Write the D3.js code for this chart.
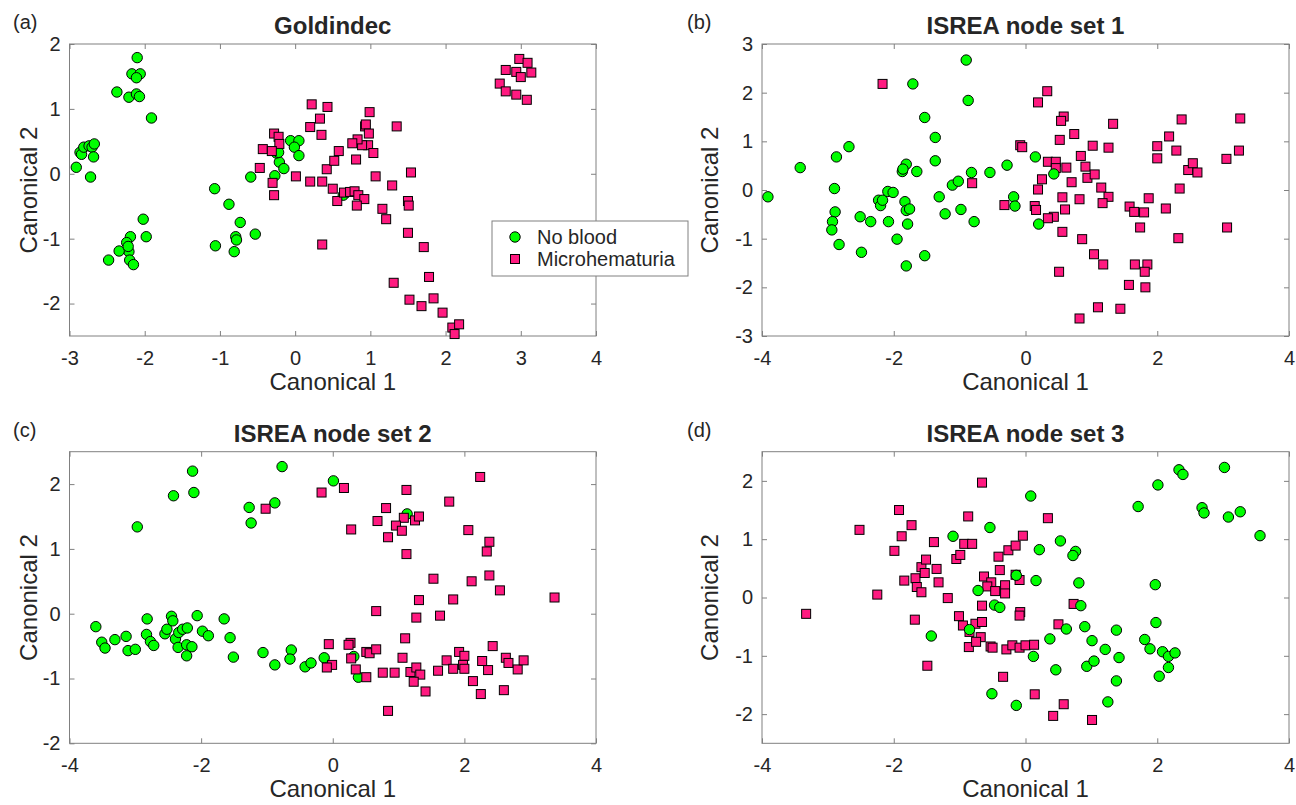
<!DOCTYPE html>
<html>
<head>
<meta charset="utf-8">
<script src="https://cdn.jsdelivr.net/npm/d3@7"></script>
<style>
  body { margin: 0; background: #fff; }
  text { font-family: Arial, "Liberation Sans", sans-serif; fill: #262626; }
</style>
</head>
<body>
<div id="chart"></div>
<script>
// ---- data ----
var groupNames = ["No blood", "Microhematuria"];
var panelTitles = ["Goldindec", "ISREA node set 1", "ISREA node set 2", "ISREA node set 3"];
var panelLetters = ["(a)", "(b)", "(c)", "(d)"];

var xTicksA = [-3, -2, -1, 0, 1, 2, 3, 4];
var yTicksA = [-2, -1, 0, 1, 2];
var xTicksB = [-4, -2, 0, 2, 4];
var yTicksB = [-3, -2, -1, 0, 1, 2, 3];
var xTicksC = [-4, -2, 0, 2, 4];
var yTicksC = [-2, -1, 0, 1, 2];
var xTicksD = [-4, -2, 0, 2, 4];
var yTicksD = [-2, -1, 0, 1, 2];

var goldNoBlood = [[-2.10,1.79],[-2.17,1.54],[-2.06,1.54],[-2.11,1.48],[-2.37,1.26],[-2.21,1.18],[-2.11,1.23],[-2.07,1.19],[-1.91,0.86],
  [-2.91,0.10],[-2.86,0.33],[-2.84,0.30],[-2.81,0.41],[-2.74,0.43],[-2.70,0.41],[-2.67,0.46],[-2.68,0.26],[-2.72,-0.05],
  [-2.02,-0.70],[-2.19,-0.97],[-2.24,-1.06],[-1.98,-0.97],[-2.21,-1.20],[-2.34,-1.19],[-2.48,-1.33],[-2.20,-1.33],[-2.15,-1.40],[-2.22,-1.12],
  [-1.07,-0.23],[-0.88,-0.47],[-0.73,-0.75],[-0.79,-0.97],[-0.78,-1.02],[-0.53,-0.93],[-1.06,-1.11],[-0.81,-1.20],
  [-0.59,-0.05],[-0.27,-0.03],[-0.21,0.18],[-0.25,0.32],[-0.15,0.08],[-0.06,0.51],[0.05,0.51],[-0.01,0.41],[0.05,0.28],[-0.22,0.33],[0.64,-0.33]];
var goldMicro = [[0.22,1.07],[0.43,1.03],[0.33,0.85],[0.20,0.72],[0.35,0.60],[-0.28,0.62],[-0.22,0.57],[-0.21,0.46],[-0.43,0.38],[-0.31,0.35],[-0.47,0.09],[-0.30,-0.14],[-0.28,-0.33],[0.01,-0.04],[0.20,-0.12],[0.36,-0.12],[0.42,0.07],[0.52,0.20],[0.58,0.35],[0.50,-0.23],[0.56,-0.42],[0.36,-1.09],
  [2.98,1.77],[3.09,1.71],[2.80,1.60],[2.94,1.57],[3.00,1.49],[3.14,1.56],[2.72,1.39],[2.80,1.27],[2.94,1.22],[3.08,1.14],
  [0.99,0.95],[0.93,0.73],[0.94,0.76],[0.98,0.62],[0.97,0.44],[0.89,0.44],[1.04,0.32],[1.35,0.73],[0.83,0.53],[0.76,0.47],[0.81,0.22],[1.07,-0.04],[1.54,0.02],[1.29,-0.18],[0.65,-0.29],[0.73,-0.28],[0.79,-0.27],[0.84,-0.33],[0.92,-0.39],[0.82,-0.49],[1.16,-0.54],[1.21,-0.70],[1.50,-0.42],[1.51,-0.49],[1.50,-0.91],[1.71,-1.13],[1.78,-1.59],[1.31,-1.68],[1.52,-1.94],[1.68,-2.04],[1.84,-1.92],[1.96,-2.14],[2.09,-2.37],[2.18,-2.32],[2.12,-2.47]];

var set1NoBlood = [[-3.91,-0.14],[-3.42,0.46],[-2.68,0.89],[-2.87,0.68],[-2.90,0.03],[-2.89,-0.45],[-2.93,-0.65],[-2.94,-0.82],[-2.83,-1.12],[-2.51,-0.55],[-2.35,-0.65],[-2.49,-1.28],[-2.23,-0.21],[-2.20,-0.32],[-2.17,-0.21],[-2.09,-0.03],[-2.01,-0.05],[-2.08,-0.65],[-1.95,-1.01],[-1.87,0.38],[-1.81,0.53],[-1.86,0.43],[-1.65,0.38],[-1.83,-0.24],[-1.81,-0.42],[-1.76,-0.39],[-1.79,-0.70],[-1.81,-1.56],[-1.53,-1.35],[-1.71,2.18],[-1.53,1.49],[-1.37,1.08],[-1.37,0.60],[-1.31,-0.14],[-1.22,-0.49],[-1.11,0.10],[-1.02,0.18],[-0.98,-0.40],[-0.90,2.67],[-0.87,1.84],[-0.82,0.36],[-0.78,-0.65],[-0.54,0.36],[-0.28,0.51],[-0.18,-0.14],[-0.16,-0.33],[0.15,0.68],[0.43,0.33],[0.20,-0.70]];
var set1Micro = [[-2.17,2.18],[-0.81,0.14],[-0.32,-0.31],
  [0.33,2.03],[0.19,1.80],[0.58,1.51],[0.54,1.42],[1.33,1.36],[0.74,1.15],[0.52,1.03],[-0.08,0.92],[-0.05,0.88],[1.02,0.91],[1.26,0.87],[0.84,0.70],[0.34,0.58],[0.46,0.58],[0.46,0.45],[0.62,0.46],[0.91,0.48],[0.25,0.22],[0.94,0.25],[1.05,0.32],[0.70,0.16],[0.19,0.01],[1.15,0.05],[1.26,-0.14],[0.56,-0.15],[0.82,-0.19],[1.17,-0.27],[0.14,-0.33],[0.16,-0.41],[0.60,-0.40],[0.43,-0.55],[0.34,-0.58],[0.56,-0.86],[0.86,-1.01],[1.04,-1.32],[1.18,-1.53],[0.51,-1.68],[0.82,-2.64],[1.10,-2.41],[1.44,-2.44],[1.57,-1.95],[1.82,-2.00],[1.66,-1.53],[1.85,-1.53],[1.81,-1.68],[1.74,-0.77],[1.58,-0.34],[1.65,-0.45],[1.80,-0.46],[1.87,-0.17],[2.13,-0.38],[2.32,-0.99],[2.34,0.03],[2.00,0.90],[2.00,0.65],[2.18,1.10],[2.29,0.81],[2.37,1.45],[2.47,0.41],[2.54,0.55],[2.61,0.36],[3.05,0.64],[3.24,0.81],[3.26,1.47],[3.06,-0.77]];

var set2NoBlood = [[-2.13,2.20],[-2.11,1.87],[-2.42,1.82],[-2.97,1.34],[-0.77,2.27],[-1.27,1.64],[-1.24,1.40],[-0.88,1.71],[0.01,2.05],[1.13,1.54],
  [-3.60,-0.20],[-3.51,-0.44],[-3.46,-0.53],[-3.31,-0.40],[-3.14,-0.35],[-3.11,-0.57],[-3.00,-0.55],[-2.82,-0.08],[-2.83,-0.32],[-2.77,-0.43],[-2.72,-0.49],[-2.55,-0.31],[-2.52,-0.24],[-2.45,-0.04],[-2.43,-0.11],[-2.39,-0.39],[-2.34,-0.29],[-2.35,-0.52],[-2.28,-0.24],[-2.21,-0.22],[-2.22,-0.48],[-2.14,-0.51],[-2.22,-0.65],[-2.06,-0.03],[-1.98,-0.27],[-1.89,-0.34],[-1.65,-0.08],[-1.56,-0.37],[-1.51,-0.67],[-1.06,-0.60],[-0.88,-0.79],[-0.63,-0.56],[-0.65,-0.70],[-0.42,-0.82],[-0.33,-0.76],[-0.13,-0.68],[0.32,-0.66],[0.39,-0.98]];
var set2Micro = [[-1.02,1.62],[-0.17,1.87],[-0.06,-0.47],[-0.01,-0.79],[-0.09,-0.83],
  [2.24,2.11],[0.17,1.94],[1.12,1.91],[1.77,1.73],[0.81,1.63],[0.68,1.43],[1.08,1.48],[1.25,1.44],[1.31,1.50],[0.96,1.36],[1.05,1.28],[0.84,1.18],[0.28,1.30],[2.06,1.29],[2.38,1.11],[2.34,0.96],[1.12,0.92],[2.38,0.59],[1.53,0.54],[2.11,0.50],[2.54,0.36],[3.37,0.25],[1.31,0.21],[1.83,0.22],[0.66,0.04],[1.27,-0.06],[1.63,-0.03],[1.10,-0.38],[2.43,-0.50],[0.27,-0.45],[0.24,-0.48],[0.51,-0.59],[0.56,-0.61],[0.66,-0.55],[0.28,-0.69],[0.35,-0.86],[0.51,-0.98],[0.76,-0.91],[0.94,-0.91],[1.06,-0.68],[1.18,-0.90],[1.27,-0.83],[1.33,-0.94],[1.23,-1.05],[1.41,-1.20],[1.60,-0.88],[0.84,-1.50],[1.73,-0.72],[1.92,-0.59],[2.00,-0.65],[1.83,-0.85],[1.98,-0.79],[2.00,-0.85],[2.13,-1.04],[2.25,-1.24],[2.27,-0.73],[2.36,-0.87],[2.63,-0.68],[2.67,-0.76],[2.60,-1.18],[2.81,-0.86],[2.90,-0.72]];

var set3NoBlood = [[-1.10,1.05],[-0.54,1.20],[-0.72,0.12],[-0.47,-0.13],[-0.39,-0.17],[-1.43,-0.66],[-0.85,-0.55],[-0.51,-1.65],[-0.14,0.38],[-0.14,-1.85],
  [0.08,1.74],[0.53,0.97],[0.21,0.82],[0.76,0.79],[0.72,0.72],[0.16,0.29],[0.81,0.25],[0.84,-0.14],[0.62,-0.54],[0.90,-0.50],[0.37,-0.71],[1.01,-0.74],[1.21,-0.89],[1.38,-0.56],[1.42,-1.03],[0.12,-1.01],[0.46,-1.24],[0.93,-1.18],[1.04,-1.09],[1.38,-1.43],[1.25,-1.79],
  [1.71,1.56],[2.01,1.93],[2.33,2.19],[2.39,2.11],[3.02,2.23],[2.68,1.54],[2.71,1.45],[3.08,1.38],[3.26,1.47],[3.56,1.06],[1.97,0.22],[1.98,-0.43],[1.81,-0.72],[1.89,-0.88],[2.08,-0.93],[2.17,-1.01],[2.27,-0.95],[2.17,-1.20],[2.03,-1.35]];
var set3Micro = [[-3.33,-0.28],[-2.52,1.16],[-2.25,0.05],[-1.92,1.50],[-1.88,1.05],[-1.73,1.24],[-1.99,0.80],[-1.84,0.29],[-1.67,0.33],[-1.65,0.18],[-1.58,0.09],[-1.58,0.52],[-1.51,0.65],[-1.53,0.42],[-1.68,-0.38],[-1.49,-1.17],[-1.39,0.95],[-1.35,0.49],[-1.32,0.26],[-1.18,-0.01],[-1.05,0.66],[-0.99,0.73],[-0.93,0.92],[-0.81,0.92],[-0.87,1.39],[-0.66,1.97],[-1.01,-0.32],[-0.95,-0.48],[-0.86,-0.85],[-0.85,-0.59],[-0.76,-0.45],[-0.66,-0.42],[-0.68,-0.68],[-0.75,-0.76],[-0.63,0.36],[-0.52,0.26],[-0.58,0.19],[-0.46,0.11],[-0.31,0.21],[-0.31,0.07],[-0.66,-0.14],[-0.53,-0.84],[-0.50,-0.86],[-0.39,0.47],[-0.41,0.70],[-0.26,0.81],[-0.15,0.89],[-0.34,-1.36],[-0.29,-0.89],[-0.20,-0.82],
  [0.34,1.36],[-0.04,1.06],[-0.15,0.39],[-0.09,0.30],[-0.08,-0.25],[-0.09,-0.31],[0.73,-0.11],[0.50,-0.46],[-0.09,-0.86],[0.00,-0.82],[0.13,-0.81],[0.14,-1.66],[0.58,-1.83],[0.42,-2.03],[1.01,-2.10]];

// ---- layout ----
var green = "#00ff00", pink = "#ff1a80";
var boxColor = "#808080";
var plainNumber = function(d) { return String(d); }; // hyphen minus, no decimals

var svg = d3.select("#chart").append("svg")
    .attr("width", 1296)
    .attr("height", 805);

var panels = [
  {left: 69.5, right: 596, top: 44, bottom: 336, xDomain: [-3, 4], yDomain: [-2.5, 2], xTicks: xTicksA, yTicks: yTicksA,
   noBlood: goldNoBlood, micro: goldMicro, greenOnTop: false, yLabelX: 29, letterX: 13},
  {left: 762, right: 1289, top: 44, bottom: 336, xDomain: [-4, 4], yDomain: [-3, 3], xTicks: xTicksB, yTicks: yTicksB,
   noBlood: set1NoBlood, micro: set1Micro, greenOnTop: true, yLabelX: 710, letterX: 687},
  {left: 69.5, right: 596, top: 451.7, bottom: 743.3, xDomain: [-4, 4], yDomain: [-2, 2.5], xTicks: xTicksC, yTicks: yTicksC,
   noBlood: set2NoBlood, micro: set2Micro, greenOnTop: false, yLabelX: 29, letterX: 13},
  {left: 762, right: 1289, top: 451.7, bottom: 743.3, xDomain: [-4, 4], yDomain: [-2.5, 2.5], xTicks: xTicksD, yTicks: yTicksD,
   noBlood: set3NoBlood, micro: set3Micro, greenOnTop: true, yLabelX: 710, letterX: 687}
];

function drawCircles(g, data, x, y) {
  g.selectAll(null).data(data).enter().append("circle")
      .attr("cx", function(d) { return x(d[0]); })
      .attr("cy", function(d) { return y(d[1]); })
      .attr("r", 5.2)
      .attr("fill", green)
      .attr("stroke", "#000")
      .attr("stroke-width", 1);
}

function drawSquares(g, data, x, y) {
  var s = 9;
  g.selectAll(null).data(data).enter().append("rect")
      .attr("x", function(d) { return x(d[0]) - s / 2; })
      .attr("y", function(d) { return y(d[1]) - s / 2; })
      .attr("width", s)
      .attr("height", s)
      .attr("fill", pink)
      .attr("stroke", "#000")
      .attr("stroke-width", 1);
}

panels.forEach(function(p, i) {
  var x = d3.scaleLinear().domain(p.xDomain).range([p.left, p.right]);
  var y = d3.scaleLinear().domain(p.yDomain).range([p.bottom, p.top]);
  var g = svg.append("g");

  // axes: inward ticks on all four sides (box on)
  var axes = [
    {ax: d3.axisBottom(x).tickValues(p.xTicks).tickFormat(plainNumber).tickPadding(15), t: "translate(0," + p.bottom + ")"},
    {ax: d3.axisTop(x).tickValues(p.xTicks).tickFormat(""), t: "translate(0," + p.top + ")"},
    {ax: d3.axisLeft(y).tickValues(p.yTicks).tickFormat(plainNumber).tickPadding(9), t: "translate(" + p.left + ",0)"},
    {ax: d3.axisRight(y).tickValues(p.yTicks).tickFormat(""), t: "translate(" + p.right + ",0)"}
  ];
  axes.forEach(function(a) {
    var ag = g.append("g").attr("transform", a.t)
        .call(a.ax.tickSizeInner(-5).tickSizeOuter(0));
    ag.select(".domain").remove();
    ag.selectAll("line").attr("stroke", boxColor);
    ag.selectAll("text").attr("font-size", 20).attr("fill", "#262626")
        .style("font-family", "Arial, 'Liberation Sans', sans-serif");
  });

  g.append("rect")
      .attr("x", p.left).attr("y", p.top)
      .attr("width", p.right - p.left).attr("height", p.bottom - p.top)
      .attr("fill", "none").attr("stroke", boxColor).attr("stroke-width", 1);

  var marks = g.append("g");
  if (p.greenOnTop) {
    drawSquares(marks, p.micro, x, y);
    drawCircles(marks, p.noBlood, x, y);
  } else {
    drawCircles(marks, p.noBlood, x, y);
    drawSquares(marks, p.micro, x, y);
  }

  // title
  g.append("text")
      .attr("x", (p.left + p.right) / 2)
      .attr("y", p.top - 10)
      .attr("text-anchor", "middle")
      .attr("font-size", 24)
      .attr("font-weight", "bold")
      .attr("fill", "#000")
      .text(panelTitles[i]);

  // panel letter
  g.append("text")
      .attr("x", p.letterX)
      .attr("y", p.top - 14.7)
      .attr("font-size", 20)
      .text(panelLetters[i]);

  // axis labels
  g.append("text")
      .attr("x", (p.left + p.right) / 2)
      .attr("y", p.bottom + 54)
      .attr("text-anchor", "middle")
      .attr("font-size", 24)
      .text("Canonical 1");

  g.append("text")
      .attr("transform", "translate(" + p.yLabelX + "," + (p.top + p.bottom) / 2 + ") rotate(-90)")
      .attr("dy", "0.35em")
      .attr("text-anchor", "middle")
      .attr("font-size", 24)
      .text("Canonical 2");
});

// legend in panel (a)
var legend = svg.append("g");
legend.append("rect")
    .attr("x", 492).attr("y", 221)
    .attr("width", 196).attr("height", 55)
    .attr("fill", "#fff").attr("stroke", boxColor).attr("stroke-width", 1);

drawCircles(legend, [[0]], function() { return 515; }, function() { return 237; });
drawSquares(legend, [[0]], function() { return 515; }, function() { return 259; });

legend.selectAll("text.lg").data(groupNames).enter().append("text")
    .attr("class", "lg")
    .attr("x", 537)
    .attr("y", function(d, i) { return 237 + i * 22; })
    .attr("dy", "0.35em")
    .attr("font-size", 20)
    .text(function(d) { return d; });
</script>
</body>
</html>
